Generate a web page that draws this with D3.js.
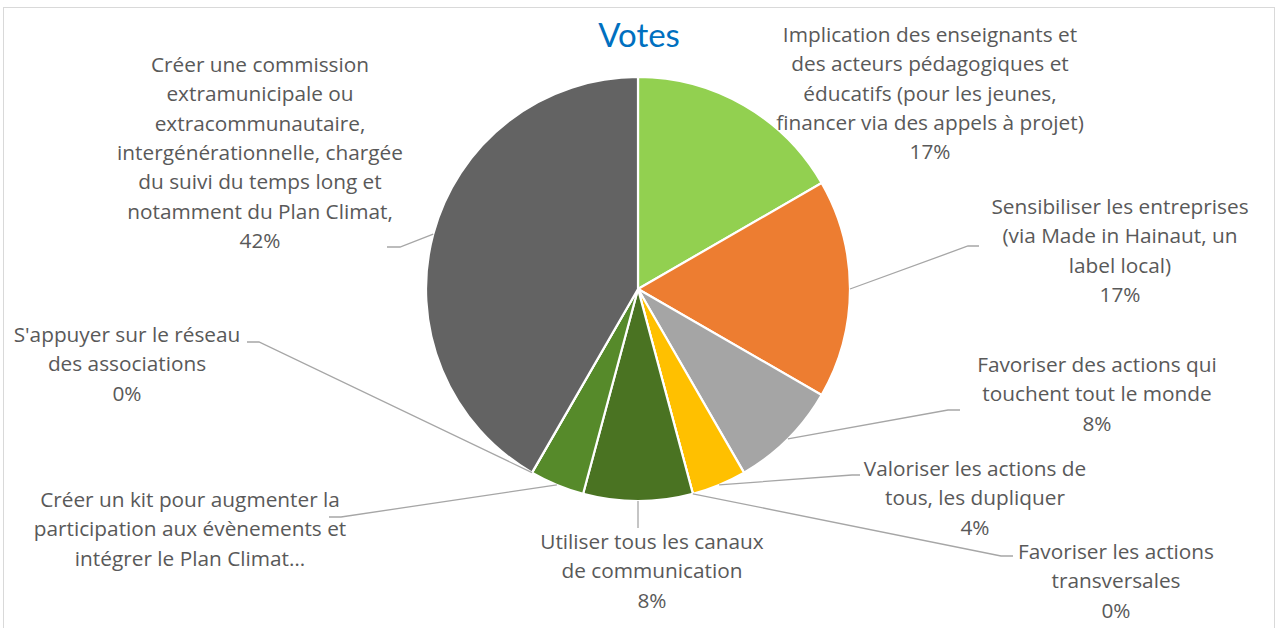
<!DOCTYPE html>
<html>
<head>
<meta charset="utf-8">
<script src="https://cdn.jsdelivr.net/npm/d3@7"></script>
<style>
  html, body { margin: 0; padding: 0; background: #fff; }
  svg { display: block; }
</style>
</head>
<body>
<svg id="chart" width="1277" height="628"></svg>
<script>
// ---- DATA ----
const categories = [
  "Implication des enseignants et des acteurs pédagogiques et éducatifs (pour les jeunes, financer via des appels à projet)",
  "Sensibiliser les entreprises (via Made in Hainaut, un label local)",
  "Favoriser des actions qui touchent tout le monde",
  "Valoriser les actions de tous, les dupliquer",
  "Favoriser les actions transversales",
  "Utiliser tous les canaux de communication",
  "Créer un kit pour augmenter la participation aux évènements et intégrer le Plan Climat…",
  "S'appuyer sur le réseau des associations",
  "Créer une commission extramunicipale ou extracommunautaire, intergénérationnelle, chargée du suivi du temps long et notamment du Plan Climat"
];
const votes = [4, 4, 2, 1, 0, 2, 1, 0, 10];
const labelLines = [
  ["Implication des enseignants et", "des acteurs pédagogiques et", "éducatifs (pour les jeunes,", "financer via des appels à projet)"],
  ["Sensibiliser les entreprises", "(via Made in Hainaut, un", "label local)"],
  ["Favoriser des actions qui", "touchent tout le monde"],
  ["Valoriser les actions de", "tous, les dupliquer"],
  ["Favoriser les actions", "transversales"],
  ["Utiliser tous les canaux", "de communication"],
  ["Créer un kit pour augmenter la", "participation aux évènements et", "intégrer le Plan Climat…"],
  ["S'appuyer sur le réseau", "des associations"],
  ["Créer une commission", "extramunicipale ou", "extracommunautaire,", "intergénérationnelle, chargée", "du suivi du temps long et", "notamment du Plan Climat,"]
];
const showPercent = [true, true, true, true, true, true, false, true, true];
const title = "Votes";

// ---- STYLE / LAYOUT ----
const colors = ["#92D050", "#ED7D31", "#A5A5A5", "#FFC000", "#5B9BD5", "#4A7322", "#568A2A", "#264478", "#636363"];
// label layout: text center x, first line center y, leader end (x,y), elbow x
const labelLayout = [
  { cx: 930,  y0: 35,  leader: false },
  { cx: 1120, y0: 207, leader: true, ex: 979,  ey: 246, bx: 968 },
  { cx: 1097, y0: 365, leader: true, ex: 960,  ey: 410, bx: 948 },
  { cx: 975,  y0: 469, leader: true, ex: 860,  ey: 475, bx: 852 },
  { cx: 1116, y0: 552, leader: true, ex: 1013, ey: 556, bx: 1001 },
  { cx: 652,  y0: 542, leader: true, ex: 638,  ey: 528, bx: 638 },
  { cx: 190,  y0: 500, leader: true, ex: 329,  ey: 517, bx: 341 },
  { cx: 127,  y0: 335, leader: true, ex: 247,  ey: 342, bx: 259 },
  { cx: 260,  y0: 65,  leader: true, ex: 387,  ey: 247, bx: 400 }
];
const cx = 638, cy = 289, R = 212;
const lineH = 29.3;
const fontFam = "'Open Sans', Lato, sans-serif";

const svg = d3.select("#chart");

// chart border
svg.append("rect")
  .attr("x", 3.5).attr("y", 7.5)
  .attr("width", 1271).attr("height", 640)
  .attr("fill", "#fff").attr("stroke", "#D9D9D9").attr("stroke-width", 1);

// title
svg.append("text")
  .attr("x", 639).attr("y", 47)
  .attr("text-anchor", "middle")
  .attr("font-family", "Lato, sans-serif")
  .attr("font-size", 33)
  .attr("fill", "#0070C0")
  .text(title);

const total = d3.sum(votes);
const pct = d3.format(".0%");

const pie = d3.pie().sort(null).value(d => d)(votes);
const arc = d3.arc().innerRadius(0).outerRadius(R);

const g = svg.append("g").attr("transform", `translate(${cx},${cy})`);
g.selectAll("path.slice")
  .data(pie)
  .join("path")
  .attr("class", "slice")
  .attr("d", arc)
  .attr("fill", (d, i) => colors[i])
  .attr("stroke", "#fff")
  .attr("stroke-width", 2.2)
  .attr("stroke-linejoin", "round");

// leader lines
pie.forEach((d, i) => {
  const L = labelLayout[i];
  if (!L.leader) return;
  const a = (d.startAngle + d.endAngle) / 2;
  const ax = cx + R * Math.sin(a), ay = cy - R * Math.cos(a);
  const pts = [[ax, ay], [L.bx, L.ey], [L.ex, L.ey]];
  svg.append("path")
    .attr("d", d3.line()(pts))
    .attr("fill", "none")
    .attr("stroke", "#A6A6A6")
    .attr("stroke-width", 1.3);
});

// labels
pie.forEach((d, i) => {
  const L = labelLayout[i];
  const lines = labelLines[i].slice();
  if (showPercent[i]) lines.push(pct(votes[i] / total));
  const t = svg.append("text")
    .attr("text-anchor", "middle")
    .attr("font-family", fontFam)
    .attr("font-size", 20.8)
    .attr("fill", "#595959");
  lines.forEach((ln, k) => {
    t.append("tspan")
      .attr("x", L.cx)
      .attr("y", L.y0 + k * lineH + 7)
      .text(ln);
  });
});
</script>
</body>
</html>
